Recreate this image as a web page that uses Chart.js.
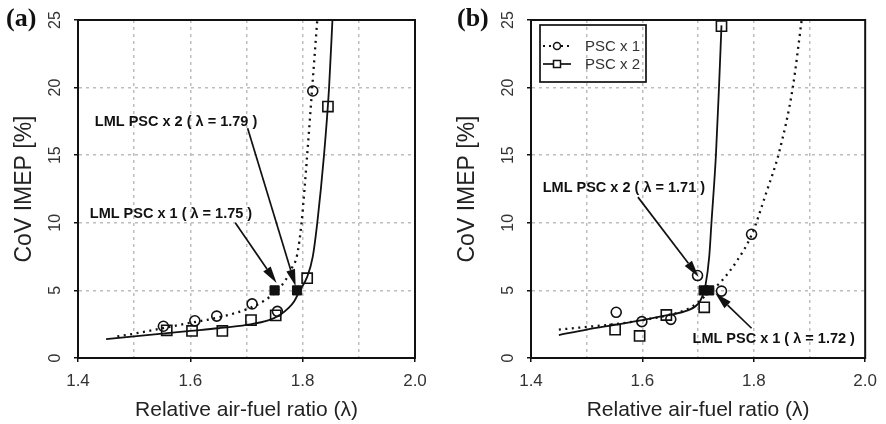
<!DOCTYPE html>
<html>
<head>
<meta charset="utf-8">
<title>CoV IMEP vs relative air-fuel ratio</title>
<script src="https://cdn.jsdelivr.net/npm/chart.js@4.4.1/dist/chart.umd.min.js"></script>
<style>
  body { margin: 0; background: #fff; }
  .wrap { display: flex; width: 886px; height: 424px; }
  canvas { display: block; }
</style>
</head>
<body>
<div class="wrap">
  <canvas id="chartA" width="443" height="424"></canvas>
  <canvas id="chartB" width="443" height="424"></canvas>
</div>
<script>
// axis ticks
const xTicks = [1.4, 1.5, 1.6, 1.7, 1.8, 1.9, 2.0];
const xLabelled = [1.4, 1.6, 1.8, 2.0];
const yTicks = [0, 5, 10, 15, 20, 25];

// (a) measured CoV IMEP
const aPsc1X = [1.552, 1.608, 1.647, 1.710, 1.755, 1.818];
const aPsc1Y = [2.35, 2.75, 3.1, 4.0, 3.45, 19.75];
const aPsc2X = [1.558, 1.603, 1.657, 1.708, 1.752, 1.808, 1.845];
const aPsc2Y = [2.05, 2.0, 2.0, 2.8, 3.15, 5.9, 18.6];
const aLmlX = [1.75, 1.79];
const aLmlY = [5, 5];
// (a) fitted trends
const aFit1X = [1.47, 1.50, 1.55, 1.60, 1.65, 1.70, 1.73, 1.755, 1.770, 1.780, 1.790, 1.798, 1.808, 1.817, 1.826];
const aFit1Y = [1.6, 1.8, 2.2, 2.6, 3.0, 3.6, 4.2, 5.0, 5.8, 6.6, 7.6, 10, 15, 20, 25];
const aFit2X = [1.45, 1.50, 1.55, 1.60, 1.65, 1.70, 1.74, 1.76, 1.775, 1.785, 1.795, 1.808, 1.818, 1.826, 1.838, 1.847, 1.853];
const aFit2Y = [1.4, 1.6, 1.8, 2.0, 2.2, 2.45, 2.8, 3.2, 3.7, 4.2, 5.0, 6.0, 7.5, 10, 15, 20, 25];

// (b) measured CoV IMEP
const bPsc1X = [1.553, 1.599, 1.651, 1.699, 1.742, 1.796];
const bPsc1Y = [3.38, 2.69, 2.86, 6.1, 4.95, 9.15];
const bPsc2X = [1.551, 1.595, 1.643, 1.711, 1.742];
const bPsc2Y = [2.1, 1.63, 3.18, 3.75, 24.55];
const bLmlX = [1.71, 1.72];
const bLmlY = [5, 5];
// (b) fitted trends
const bFit1X = [1.45, 1.50, 1.55, 1.60, 1.65, 1.68, 1.70, 1.72, 1.74, 1.77, 1.796, 1.823, 1.846, 1.870, 1.886];
const bFit1Y = [2.1, 2.3, 2.5, 2.8, 3.2, 3.6, 4.1, 4.9, 5.6, 7.2, 9.1, 12.3, 15.3, 20, 25];
const bFit2X = [1.45, 1.50, 1.55, 1.60, 1.65, 1.68, 1.70, 1.708, 1.713, 1.720, 1.724, 1.732, 1.7375, 1.742];
const bFit2Y = [1.7, 2.1, 2.45, 2.8, 3.2, 3.5, 4.0, 4.6, 5.3, 7.5, 10, 15, 20, 24.6];

Chart.defaults.font.family = '"Liberation Sans", Arial, sans-serif';
Chart.defaults.color = '#333';

function pts(xs, ys) {
	return xs.map((x, i) => ({ x: x, y: ys[i] }));
}

function lmlText(n, lam) {
	return 'LML PSC x ' + n + ' ( \u03bb = ' + lam.toFixed(2) + ' )';
}

function drawArrow(ctx, x1, y1, x2, y2) {
	const ang = Math.atan2(y2 - y1, x2 - x1);
	const len = 17, half = 4.5;
	const bx = x2 - len * Math.cos(ang), by = y2 - len * Math.sin(ang);
	ctx.lineWidth = 1.7;
	ctx.beginPath();
	ctx.moveTo(x1, y1);
	ctx.lineTo(bx, by);
	ctx.stroke();
	ctx.beginPath();
	ctx.moveTo(x2, y2);
	ctx.lineTo(bx - half * Math.sin(ang), by + half * Math.cos(ang));
	ctx.lineTo(bx + half * Math.sin(ang), by - half * Math.cos(ang));
	ctx.closePath();
	ctx.fill();
}

// frame, panel letter, arrow notes and the boxed legend
const decor = {
	id: 'decor',
	afterDraw(chart, args, opts) {
		const ctx = chart.ctx, area = chart.chartArea;
		const xs = chart.scales.x, ys = chart.scales.y;
		ctx.save();
		ctx.strokeStyle = '#111';
		ctx.fillStyle = '#111';
		ctx.lineWidth = 2;
		ctx.strokeRect(area.left, area.top, area.right - area.left, area.bottom - area.top);

		ctx.font = 'bold 26px "Liberation Serif", serif';
		ctx.textAlign = 'left';
		ctx.textBaseline = 'alphabetic';
		ctx.fillText(opts.letter, opts.letterX, 26);

		ctx.font = 'bold 14.5px "Liberation Sans", Arial, sans-serif';
		ctx.textBaseline = 'middle';
		opts.notes.forEach(n => {
			ctx.fillText(n.text, xs.getPixelForValue(n.at[0]), ys.getPixelForValue(n.at[1]));
			drawArrow(ctx,
				xs.getPixelForValue(n.from[0]), ys.getPixelForValue(n.from[1]),
				xs.getPixelForValue(n.to[0]), ys.getPixelForValue(n.to[1]));
		});

		if (opts.legend) {
			const bx = area.left + 9, by = area.top + 5;
			ctx.lineWidth = 1.7;
			ctx.strokeRect(bx, by, 106, 57);
			const rows = [chart.data.datasets[1], chart.data.datasets[2]];
			rows.forEach((ds, i) => {
				const y = by + 21 + i * 18;
				ctx.lineWidth = i === 0 ? 2 : 1.7;
				ctx.setLineDash(i === 0 ? [2, 4] : []);
				ctx.beginPath();
				ctx.moveTo(bx + 3, y);
				ctx.lineTo(bx + 31, y);
				ctx.stroke();
				ctx.setLineDash([]);
				ctx.lineWidth = 1.5;
				ctx.fillStyle = '#fff';
				ctx.beginPath();
				if (ds.pointStyle === 'circle') ctx.arc(bx + 17, y, 3.5, 0, Math.PI * 2);
				else ctx.rect(bx + 13.5, y - 3.5, 7, 7);
				ctx.fill();
				ctx.stroke();
				ctx.fillStyle = '#333';
				ctx.font = '15px "Liberation Sans", Arial, sans-serif';
				ctx.fillText(ds.label, bx + 45, y + 1);
			});
		}
		ctx.restore();
	}
};

function makeChart(id, d) {
	return new Chart(document.getElementById(id), {
		type: 'scatter',
		data: {
			datasets: [
				{
					label: 'LML',
					data: pts(d.lmlX, d.lmlY),
					pointStyle: 'rect',
					radius: 6.5,
					backgroundColor: '#111',
					borderColor: '#111',
					borderWidth: 1,
					clip: false
				},
				{
					label: 'PSC x 1',
					data: pts(d.psc1X, d.psc1Y),
					pointStyle: 'circle',
					radius: 5,
					backgroundColor: 'rgba(255,255,255,0)',
					borderColor: '#111',
					borderWidth: 1.6,
					clip: false
				},
				{
					label: 'PSC x 2',
					data: pts(d.psc2X, d.psc2Y),
					pointStyle: 'rect',
					radius: 7.2,
					backgroundColor: 'rgba(255,255,255,0)',
					borderColor: '#111',
					borderWidth: 1.6,
					clip: false
				},
				{
					label: 'PSC x 1 trend',
					data: pts(d.fit1X, d.fit1Y),
					showLine: true,
					pointRadius: 0,
					borderColor: '#111',
					borderWidth: 2.3,
					borderDash: [2, 4.5],
					cubicInterpolationMode: 'monotone'
				},
				{
					label: 'PSC x 2 trend',
					data: pts(d.fit2X, d.fit2Y),
					showLine: true,
					pointRadius: 0,
					borderColor: '#111',
					borderWidth: 1.8,
					cubicInterpolationMode: 'monotone'
				}
			]
		},
		options: {
			responsive: false,
			animation: false,
			events: [],
			layout: { padding: { top: 20, right: d.padRight, left: 0, bottom: 0 } },
			scales: {
				x: {
					type: 'linear',
					min: 1.4,
					max: 2.0,
					afterBuildTicks: s => { s.ticks = xTicks.map(v => ({ value: v })); },
					afterFit: s => { s.height = 66; },
					ticks: {
						autoSkip: false,
						maxRotation: 0,
						padding: 9,
						font: { size: 17 },
						callback: v => xLabelled.includes(v) ? v.toFixed(1) : ''
					},
					grid: {
						color: c => (c.tick && (c.tick.value === 1.4 || c.tick.value === 2.0)) ? 'rgba(0,0,0,0)' : '#bdbdbd',
						lineWidth: 1.5,
						tickLength: 4,
						tickWidth: 1.5,
						tickColor: c => (c.tick && xLabelled.includes(c.tick.value)) ? '#111' : 'rgba(0,0,0,0)'
					},
					border: { color: '#111', width: 2, dash: [3, 4] },
					title: {
						display: true,
						text: 'Relative air-fuel ratio (\u03bb)',
						color: '#222',
						font: { size: 21, lineHeight: 1.2 },
						padding: { top: 0, bottom: 1 }
					}
				},
				y: {
					min: 0,
					max: 25,
					afterBuildTicks: s => { s.ticks = yTicks.map(v => ({ value: v })); },
					afterFit: s => { s.width = d.padLeft; },
					ticks: {
						minRotation: 90,
						maxRotation: 90,
						crossAlign: 'center',
						padding: 10,
						font: { size: 16 }
					},
					grid: {
						color: c => (c.tick && (c.tick.value === 0 || c.tick.value === 25)) ? 'rgba(0,0,0,0)' : '#bdbdbd',
						lineWidth: 1.5,
						tickLength: 4,
						tickWidth: 1.5,
						tickColor: '#111'
					},
					border: { color: '#111', width: 2, dash: [3, 4] },
					title: {
						display: true,
						text: 'CoV IMEP [%]',
						color: '#222',
						font: { size: 23, lineHeight: 1.2 },
						padding: { top: 11, bottom: 0 }
					}
				}
			},
			plugins: {
				legend: { display: false },
				tooltip: { enabled: false },
				decor: d.decor
			}
		},
		plugins: [decor]
	});
}

makeChart('chartA', {
	lmlX: aLmlX, lmlY: aLmlY,
	psc1X: aPsc1X, psc1Y: aPsc1Y,
	psc2X: aPsc2X, psc2Y: aPsc2Y,
	fit1X: aFit1X, fit1Y: aFit1Y,
	fit2X: aFit2X, fit2Y: aFit2Y,
	padLeft: 78, padRight: 28,
	decor: {
		letter: '(a)', letterX: 6, legend: false,
		notes: [
			{ text: lmlText(2, aLmlX[1]), at: [1.430, 17.45], from: [1.702, 17.0], to: [1.7875, 5.3] },
			{ text: lmlText(1, aLmlX[0]), at: [1.421, 10.65], from: [1.680, 10.0], to: [1.7536, 5.55] }
		]
	}
});

makeChart('chartB', {
	lmlX: bLmlX, lmlY: bLmlY,
	psc1X: bPsc1X, psc1Y: bPsc1Y,
	psc2X: bPsc2X, psc2Y: bPsc2Y,
	fit1X: bFit1X, fit1Y: bFit1Y,
	fit2X: bFit2X, fit2Y: bFit2Y,
	padLeft: 88, padRight: 16,
	decor: {
		letter: '(b)', letterX: 14, legend: true,
		notes: [
			{ text: lmlText(2, bLmlX[0]), at: [1.421, 12.57], from: [1.592, 11.9], to: [1.701, 6.0] },
			{ text: lmlText(1, bLmlX[1]), at: [1.690, 1.4], from: [1.796, 2.2], to: [1.731, 4.79] }
		]
	}
});
</script>
</body>
</html>
